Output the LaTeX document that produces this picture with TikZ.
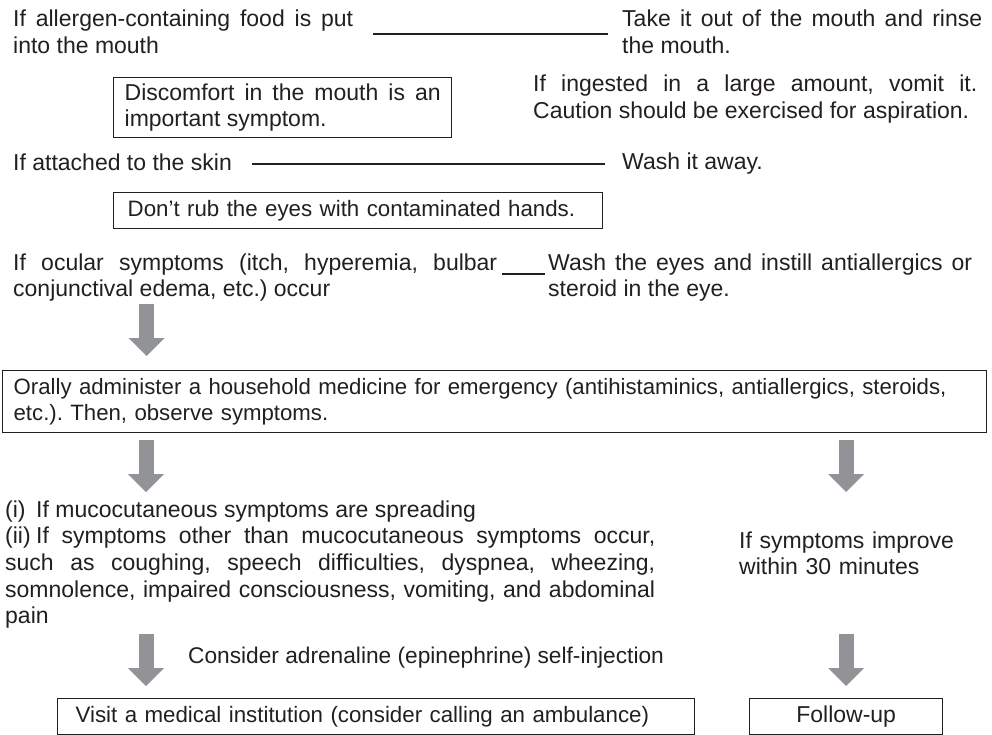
\documentclass[tikz,border=0pt]{standalone}
\usepackage{fontspec}
\setmainfont{Liberation Sans}
\usetikzlibrary{arrows.meta}
\definecolor{inkgray}{RGB}{35,31,32}
\definecolor{arrowgray}{RGB}{146,147,150}
\tolerance=9999
\hyphenpenalty=10000
\frenchspacing

\begin{document}
\begin{tikzpicture}[x=1pt,y=-1pt,
    every node/.style={font=\fontsize{23}{26.7}\selectfont, text=inkgray, inner sep=0pt},
    plain/.style={anchor=base west},
    txt/.style={anchor=base west, align=justify},
    frame/.style={draw=inkgray, line width=1.3pt, inner xsep=11pt, anchor=north west, align=left},
    flow/.style={draw=arrowgray, line width=15pt, -{Triangle[width=36pt,length=18pt,line width=0pt]}},
    tie/.style={draw=inkgray, line width=1.1pt},
]
    \useasboundingbox (0,0) rectangle (992,735);

    \node[txt, text width=340pt] (mouth) at (13,27) {If allergen-containing food is put\linebreak into the mouth};
    \node[txt, text width=360pt] (rinse) at (622,27) {Take it out of the mouth and rinse\linebreak the mouth.};
    \node[txt, text width=444pt] (vomit) at (533,92) {If ingested in a large amount, vomit it.\linebreak Caution should be exercised for aspiration.};
    \node[frame, text width=316pt, minimum height=60pt, align=justify] (mouthbox) at (113,77) {Discomfort in the mouth is an\linebreak important symptom.};

    \node[plain] (skin) at (13,171) {If attached to the skin};
    \node[plain] (washaway) at (622,170) {Wash it away.};
    \node[frame, inner xsep=14pt, text width=461pt, minimum height=36pt,
        font=\fontsize{22.3}{26}\selectfont] (eyebox) at (113,192) {Don’t rub the eyes with contaminated hands.};

    \node[txt, text width=484pt] (ocular) at (13,270) {If ocular symptoms (itch, hyperemia, bulbar\linebreak conjunctival edema, etc.) occur};
    \node[txt, text width=424pt] (eyewash) at (548,270) {Wash the eyes and instill antiallergics or\linebreak steroid in the eye.};

    \node[frame, text width=962pt, minimum height=62pt,
        font=\fontsize{22.2}{26}\selectfont] (medbox) at (2,370) {Orally administer a household medicine for emergency (antihistaminics, antiallergics, steroids,\\ etc.). Then, observe symptoms.};

    \node[txt, text width=650pt] (worse) at (5,517) {\makebox[31pt][l]{(i)}If mucocutaneous symptoms are spreading\\
        \makebox[31pt][l]{(ii)}If symptoms other than mucocutaneous symptoms occur,\linebreak
        such as coughing, speech difficulties, dyspnea, wheezing,\linebreak
        somnolence, impaired consciousness, vomiting, and abdominal\linebreak pain};
    \node[txt, text width=230pt, align=left] (better) at (739,548) {If symptoms improve\\ within 30 minutes};

    \node[plain, font=\fontsize{22.7}{26}\selectfont] (adrenaline) at (188,663) {Consider adrenaline (epinephrine) self-injection};
    \node[frame, inner xsep=18pt, text width=601pt, minimum height=36pt,
        font=\fontsize{22.3}{26}\selectfont] (visitbox) at (57,698) {Visit a medical institution (consider calling an ambulance)};
    \node[frame, minimum width=193pt, minimum height=36pt, align=center] (followbox) at (749,698) {Follow-up};

    \coordinate (mouthL) at (373,34);
    \coordinate (mouthR) at (608,34);
    \coordinate (skinL) at (252,164);
    \coordinate (skinR) at (605,164);
    \coordinate (ocularL) at (502,274);
    \coordinate (ocularR) at (545,274);
    \draw[tie] (mouthL) -- (mouthR);
    \draw[tie] (skinL) -- (skinR);
    \draw[tie] (ocularL) -- (ocularR);

    \foreach \x/\ys/\ye[count=\n] in {146.5/304/356, 146/440/492, 846/440/492, 146/634/686, 846/634/686}{
        \coordinate (arr\n s) at (\x,\ys);
        \coordinate (arr\n e) at (\x,\ye);
        \draw[flow] (arr\n s) -- (arr\n e);
    }
\end{tikzpicture}
\end{document}
